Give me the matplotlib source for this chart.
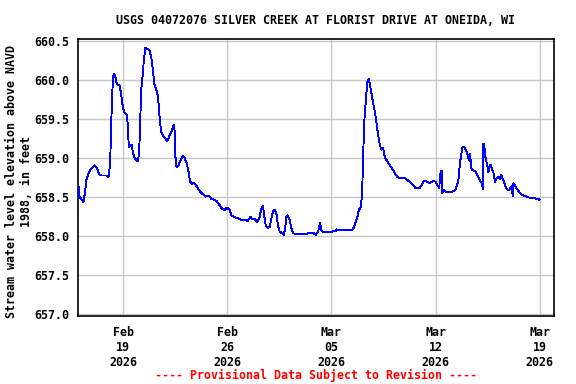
import matplotlib
matplotlib.use("Agg")
import matplotlib.pyplot as plt
import matplotlib.dates as mdates
from matplotlib.ticker import FormatStrFormatter
import numpy as np
import datetime as dt

title = "USGS 04072076 SILVER CREEK AT FLORIST DRIVE AT ONEIDA, WI"
ylabel = "Stream water level elevation above NAVD\n1988, in feet"
footer = "---- Provisional Data Subject to Revision ----"

start = dt.datetime(2026, 2, 16, 0, 0)
# hours since start
hours = [0.0, 1.4, 4.2, 7.9, 10.6, 12.2, 13.8, 17.6, 20.3, 25.6, 30.0, 33.7, 36.5, 44.5, 48.3,
         51.0, 52.6, 54.2, 55.8, 57.9, 60.0, 61.7, 66.0, 68.8, 71.4, 74.1, 77.8, 79.4, 81.0,
         83.8, 85.9, 87.5, 90.3, 93.0, 95.6, 97.8, 99.5, 101.1, 103.7, 105.3, 108.0, 111.7,
         114.5, 117.2, 118.8, 120.9, 122.6, 125.3, 126.9, 129.0, 131.1, 133.4, 136.0, 139.8,
         143.1, 146.8, 150.5, 153.3, 154.9, 156.0, 158.1, 161.3, 164.6, 168.3, 171.0, 174.3,
         177.5, 179.6, 182.8, 186.0, 190.9, 195.3, 200.6, 204.9, 210.3, 214.2, 219.5, 223.2,
         227.6, 231.9, 235.6, 239.4, 243.7, 246.9, 251.8, 257.1, 262.6, 267.9, 273.3, 277.2,
         280.4, 284.1, 287.8, 290.1, 292.2, 294.9, 297.5, 299.8, 301.9, 305.1, 308.3, 311.1,
         313.7, 316.4, 319.2, 321.7, 324.5, 328.8, 331.4, 333.7, 335.3, 337.4, 340.6, 343.4,
         346.0, 351.5, 362.1, 371.8, 379.4, 382.6, 386.4, 389.6, 391.9, 394.4, 400.9, 408.0,
         414.9, 416.1, 421.4, 432.2, 441.3, 444.5, 447.3, 450.0, 452.1, 455.3, 457.4, 459.1,
         460.7, 462.9, 464.5, 466.2, 468.3, 469.9, 472.6, 475.2, 478.0, 480.7, 483.3, 486.0,
         488.8, 491.4, 494.1, 498.5, 502.2, 506.5, 510.3, 514.6, 518.3, 525.3, 529.2, 534.5,
         539.8, 543.7, 550.6, 553.4, 557.1, 560.3, 564.0, 568.4, 572.1, 576.5, 578.6, 581.8,
         584.1, 585.7, 586.2, 589.4, 593.8, 601.9, 607.2, 609.9, 612.5, 614.1, 616.4, 618.0,
         619.6, 622.2, 624.5, 627.1, 628.7, 630.3, 631.9, 633.0, 635.1, 639.5, 643.2, 646.4,
         649.2, 650.8, 652.4, 652.9, 654.5, 655.6, 657.3, 659.4, 661.0, 662.6, 664.9, 666.5,
         669.0, 671.8, 674.5, 677.1, 679.9, 681.5, 684.2, 686.3, 689.6, 693.3, 696.0, 698.8,
         700.4, 701.4, 704.1, 706.9, 711.0, 714.9, 720.3, 725.6, 733.7, 741.8, 743.4]
stage = [658.64, 658.51, 658.48, 658.44, 658.57, 658.71, 658.76, 658.83, 658.87, 658.91, 658.87,
         658.79, 658.78, 658.78, 658.76, 658.94, 659.43, 659.81, 660.06, 660.08, 660.03, 659.95,
         659.94, 659.82, 659.66, 659.59, 659.56, 659.43, 659.15, 659.17, 659.17, 659.08, 659.01,
         658.98, 658.96, 659.08, 659.49, 659.88, 660.09, 660.26, 660.42, 660.40, 660.38, 660.30,
         660.20, 660.05, 659.94, 659.88, 659.85, 659.71, 659.49, 659.34, 659.29, 659.26, 659.22,
         659.29, 659.36, 659.43, 659.36, 659.04, 658.89, 658.91, 658.98, 659.03, 659.01, 658.94,
         658.83, 658.71, 658.67, 658.69, 658.64, 658.58, 658.54, 658.51, 658.52, 658.48, 658.47,
         658.45, 658.40, 658.35, 658.34, 658.37, 658.34, 658.27, 658.25, 658.23, 658.21, 658.21,
         658.20, 658.25, 658.22, 658.22, 658.19, 658.21, 658.25, 658.36, 658.39, 658.25, 658.14,
         658.11, 658.12, 658.23, 658.32, 658.34, 658.29, 658.14, 658.06, 658.04, 658.02, 658.14,
         658.25, 658.27, 658.21, 658.10, 658.04, 658.03, 658.03, 658.04, 658.04, 658.02, 658.06,
         658.17, 658.08, 658.05, 658.06, 658.06, 658.07, 658.09, 658.08, 658.08, 658.08, 658.12,
         658.19, 658.25, 658.34, 658.37, 658.55, 659.04, 659.45, 659.68, 659.85, 660.00, 660.02,
         659.95, 659.83, 659.71, 659.60, 659.45, 659.30, 659.17, 659.11, 659.13, 659.01, 658.96,
         658.91, 658.86, 658.81, 658.76, 658.75, 658.75, 658.73, 658.70, 658.66, 658.62, 658.62,
         658.66, 658.71, 658.71, 658.69, 658.69, 658.71, 658.70, 658.66, 658.62, 658.83, 658.84,
         658.55, 658.59, 658.57, 658.57, 658.59, 658.64, 658.70, 658.85, 659.00, 659.08, 659.15,
         659.15, 659.11, 659.06, 659.00, 658.97, 659.06, 658.89, 658.85, 658.84, 658.79, 658.73,
         658.70, 658.67, 658.61, 659.19, 659.19, 659.04, 658.98, 658.91, 658.82, 658.89, 658.92,
         658.87, 658.83, 658.70, 658.74, 658.76, 658.74, 658.79, 658.74, 658.70, 658.62, 658.59,
         658.61, 658.65, 658.52, 658.68, 658.65, 658.61, 658.57, 658.53, 658.52, 658.50, 658.49,
         658.48, 658.47]

yticks = [657.0, 657.5, 658.0, 658.5, 659.0, 659.5, 660.0, 660.5]
xtick_dates = [dt.datetime(2026, 2, 19), dt.datetime(2026, 2, 26), dt.datetime(2026, 3, 5),
               dt.datetime(2026, 3, 12), dt.datetime(2026, 3, 19)]

times = [start + dt.timedelta(hours=h) for h in hours]

FONT = "DejaVu Sans Mono"
FS = 8.4

fig = plt.figure(figsize=(5.76, 3.84), dpi=100)
ax = fig.add_axes([78 / 576, 1 - 316 / 384, (554 - 78) / 576, (316 - 39) / 384])

ax.plot(times, stage, color="#0000FF", lw=0.65, antialiased=False, zorder=3)

ax.set_xlim(start - dt.timedelta(hours=0.9), start + dt.timedelta(hours=767))
ax.set_ylim(656.98, 660.53)
ax.set_yticks(yticks)
ax.yaxis.set_major_formatter(FormatStrFormatter("%.1f"))
ax.set_xticks(xtick_dates)
ax.xaxis.set_major_formatter(mdates.DateFormatter("%b\n%d\n%Y"))

ax.grid(True, color="#C8C8C8", lw=1.0, zorder=0)
ax.tick_params(axis="both", length=0, labelsize=FS)
ax.tick_params(axis="y", pad=6)
ax.tick_params(axis="x", pad=7)
for lab in ax.get_xticklabels() + ax.get_yticklabels():
    lab.set_fontfamily(FONT)
    lab.set_fontweight("bold")
for sp in ax.spines.values():
    sp.set_linewidth(1.2)
    sp.set_color("black")

fig.text(316 / 576, 1 - 20 / 384, title, ha="center", va="center",
         fontsize=FS, fontfamily=FONT, fontweight="bold")
fig.text(19 / 576, 1 - 181 / 384, ylabel, ha="center", va="center", rotation=90,
         multialignment="center", fontsize=FS, fontfamily=FONT, fontweight="bold",
         linespacing=1.15)
fig.text(316 / 576, 1 - 375 / 384, footer, ha="center", va="center", color="#FF0000",
         fontsize=FS, fontfamily=FONT, fontweight="bold")

fig.savefig("out.png", dpi=100)
